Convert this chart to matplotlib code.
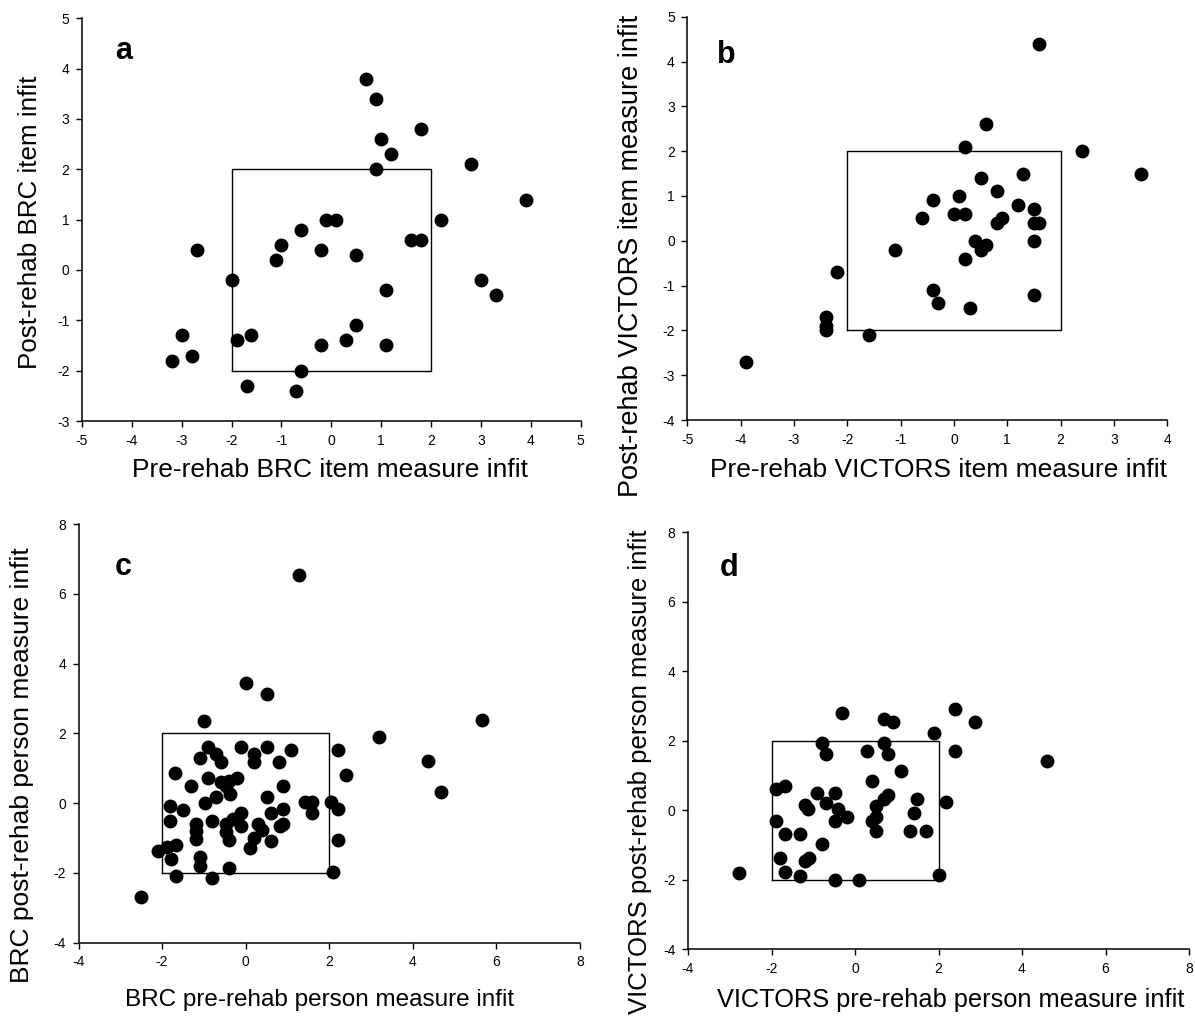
import matplotlib
matplotlib.use("Agg")
import matplotlib.pyplot as plt

plt.rcParams["font.family"] = ["Liberation Sans", "DejaVu Sans"]
plt.rcParams["axes.unicode_minus"] = False

# a: BRC item infit, pre vs post rehab
a_pre = [0.7, 0.9, 1.8, 1.0, 1.2, 0.9, 2.8, 3.9, 2.2, -0.1, 0.1, -0.6, -1.0, -1.1,
         -0.2, 0.5, 1.6, 1.8, -2.7, -2.0, 1.1, 3.0, 3.3, 0.5, 0.3, -0.2, 1.1, -1.9,
         -1.6, -3.0, -2.8, -3.2, -0.6, -1.7, -0.7]
a_post = [3.8, 3.4, 2.8, 2.6, 2.3, 2.0, 2.1, 1.4, 1.0, 1.0, 1.0, 0.8, 0.5, 0.2,
          0.4, 0.3, 0.6, 0.6, 0.4, -0.2, -0.4, -0.2, -0.5, -1.1, -1.4, -1.5, -1.5, -1.4,
          -1.3, -1.3, -1.7, -1.8, -2.0, -2.3, -2.4]

# b: VICTORS item infit
b_pre = [1.6, 0.6, 0.2, 2.4, 3.5, 0.5, 1.3, 0.8, 0.1, -0.4, 1.2, 1.5, -0.6, 0.0,
         0.2, 0.8, 0.9, 1.5, 1.6, 1.5, 0.4, 0.5, 0.6, -1.1, 0.2, -2.2, -0.4, -0.3,
         0.3, 1.5, -2.4, -2.4, -2.4, -1.6, -3.9]
b_post = [4.4, 2.6, 2.1, 2.0, 1.5, 1.4, 1.5, 1.1, 1.0, 0.9, 0.8, 0.7, 0.5, 0.6,
          0.6, 0.4, 0.5, 0.4, 0.4, 0.0, 0.0, -0.2, -0.1, -0.2, -0.4, -0.7, -1.1, -1.4,
          -1.5, -1.2, -1.7, -1.9, -2.0, -2.1, -2.7]

# c: BRC person infit
c_pre = [1.27, 0.0, 0.51, -0.99, 5.65, 3.19, 4.37, 4.67, -2.5, 2.2, 2.39, 2.2, 2.2,
         2.08, 2.04,
         -0.9, -1.1, -0.7, -0.6, -0.1, 0.21, 0.21, 0.5, 0.8, 1.09, -1.68, -0.9, -1.3,
         -0.6, -0.4, -0.2, -0.48, -0.38, -0.7, -0.98, 0.5, 0.89, -1.8, -1.51, -1.8,
         -1.18, -1.18, -1.18, -0.8, -0.1, -0.48, -0.3, -0.48, -0.4, -0.1, 0.29, 0.4,
         0.6, 0.89, 0.81, 0.89, 0.21, 0.6, 0.1, 1.41, 1.59, 1.59, -2.09, -1.89, -1.67,
         -1.79, -1.1, -1.1, -0.4, -1.67, -0.8]
c_post = [6.55, 3.45, 3.14, 2.34, 2.38, 1.9, 1.21, 0.31, -2.69, 1.51, 0.81, -0.18, -1.07,
          -1.96, 0.04,
          1.62, 1.29, 1.41, 1.18, 1.61, 1.41, 1.18, 1.61, 1.18, 1.51, 0.86, 0.71, 0.5,
          0.6, 0.64, 0.72, 0.48, 0.27, 0.19, 0.01, 0.19, 0.5, -0.09, -0.2, -0.51,
          -0.61, -0.8, -1.03, -0.51, -0.27, -0.61, -0.46, -0.84, -1.05, -0.65, -0.61, -0.77,
          -0.29, -0.18, -0.65, -0.61, -0.99, -1.08, -1.3, 0.03, 0.03, -0.27, -1.36, -1.27, -1.19,
          -1.6, -1.55, -1.79, -1.87, -2.1, -2.15]

# d: VICTORS person infit
d_pre = [-0.3, 0.69, 0.9, 2.39, 2.88, 1.89, -0.78, -0.7, 0.29, 0.69, 0.78, 2.39, 4.61,
         1.1, 0.41, -1.9, -1.68, -0.91, -0.49, -0.69, -1.19, -1.12, -0.41, -0.19, -0.49,
         0.69, 0.8, 0.5, 0.5, 0.41, 0.51, 1.48, 1.41, 2.19, 1.31, 1.7, -1.9, -1.68,
         -1.31, -0.78, -1.8, -1.19, -1.1, -1.68, -1.31, -0.49, 0.1, 2.01, -2.79]
d_post = [2.8, 2.63, 2.52, 2.9, 2.53, 2.21, 1.93, 1.62, 1.71, 1.94, 1.62, 1.71, 1.4,
          1.13, 0.83, 0.6, 0.7, 0.5, 0.5, 0.2, 0.13, 0.02, 0.02, -0.19, -0.32,
          0.32, 0.42, 0.12, -0.19, -0.32, -0.59, 0.32, -0.09, 0.22, -0.59, -0.59, -0.32, -0.68,
          -0.68, -0.99, -1.39, -1.47, -1.38, -1.79, -1.9, -2.02, -2.02, -1.88, -1.8]

box_x = [-2, 2, 2, -2, -2]
box_y = [-2, -2, 2, 2, -2]

W, H = 1195, 1022


def px_axes(fig, x0, x1, ytop, ybot):
    return fig.add_axes([x0 / W, 1 - ybot / H, (x1 - x0) / W, (ybot - ytop) / H])


panels = [
    dict(pos=(82, 580.5, 18.3, 421), x=a_pre, y=a_post, xlim=(-5, 5), ylim=(-3, 5),
         xt=range(-5, 6), yt=range(-3, 6), letter="a", lpos=(0.084, 0.92),
         xlabel="Pre-rehab BRC item measure infit", xl=(330, 470, 19),
         ylabel="Post-rehab BRC item infit", yl=(30, 222, 18.7)),
    dict(pos=(687.3, 1167.3, 16.7, 420), x=b_pre, y=b_post, xlim=(-5, 4), ylim=(-4, 5),
         xt=range(-5, 5), yt=range(-4, 6), letter="b", lpos=(0.081, 0.905),
         xlabel="Pre-rehab VICTORS item measure infit", xl=(939, 470, 19),
         ylabel="Post-rehab VICTORS item measure infit", yl=(631, 256, 19.5)),
    dict(pos=(78.5, 580, 524, 942.7), x=c_pre, y=c_post, xlim=(-4, 8), ylim=(-4, 8),
         xt=range(-4, 9, 2), yt=range(-4, 9, 2), letter="c", lpos=(0.089, 0.897),
         xlabel="BRC pre-rehab person measure infit", xl=(320, 1000, 17.5),
         ylabel="BRC post-rehab person measure infit", yl=(22, 765, 19)),
    dict(pos=(688, 1189, 532, 949), x=d_pre, y=d_post, xlim=(-4, 8), ylim=(-4, 8),
         xt=range(-4, 9, 2), yt=range(-4, 9, 2), letter="d", lpos=(0.082, 0.914),
         xlabel="VICTORS pre-rehab person measure infit", xl=(951, 1000, 18.3),
         ylabel="VICTORS post-rehab person measure infit", yl=(640, 772, 18.5)),
]

fig = plt.figure(figsize=(W / 100, H / 100), dpi=100)

for p in panels:
    ax = px_axes(fig, *p["pos"])
    ax.plot(box_x, box_y, color="black", lw=1.0, zorder=1)
    ax.plot(p["x"], p["y"], "o", color="black", ms=9, zorder=2, clip_on=False)
    ax.set_xlim(*p["xlim"])
    ax.set_ylim(*p["ylim"])
    ax.set_xticks(list(p["xt"]))
    ax.set_yticks(list(p["yt"]))
    for s in ("top", "right"):
        ax.spines[s].set_visible(False)
    for s in ("left", "bottom"):
        ax.spines[s].set_linewidth(1.1)
    ax.tick_params(direction="out", length=4, width=1, labelsize=10, pad=5)
    ax.text(*p["lpos"], p["letter"], transform=ax.transAxes, fontsize=22,
            fontweight="bold", ha="center", va="center")
    fig.text(p["xl"][0] / W, 1 - p["xl"][1] / H, p["xlabel"], fontsize=p["xl"][2],
             ha="center", va="center")
    fig.text(p["yl"][0] / W, 1 - p["yl"][1] / H, p["ylabel"], fontsize=p["yl"][2],
             ha="center", va="center", rotation=90)

fig.savefig("out.png", dpi=100)
